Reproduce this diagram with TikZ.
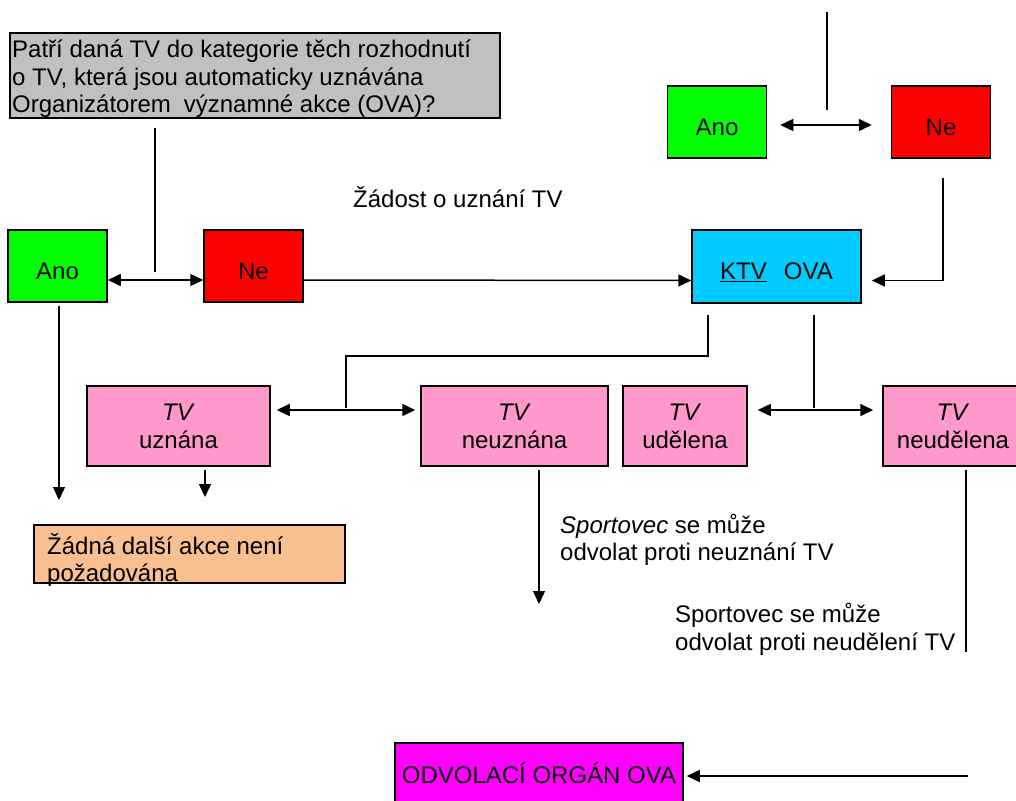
\documentclass[tikz,border=0pt]{standalone}
\usepackage{fontspec}
\setmainfont{Liberation Sans}
\usetikzlibrary{arrows.meta}
\definecolor{cgray}{HTML}{C0C0C0}
\definecolor{cgreen}{HTML}{00FF00}
\definecolor{cred}{HTML}{FF0000}
\definecolor{ccyan}{HTML}{00CCFF}
\definecolor{cpink}{HTML}{FF99CC}
\definecolor{ctan}{HTML}{F8C090}
\definecolor{cmag}{HTML}{FF00FF}
\tikzset{
  every node/.style={font=\fontsize{24}{28}\selectfont},
  boxbase/.style={draw=black, line width=1.5pt, inner sep=0pt, rectangle},
  yesno/.style={boxbase, minimum width=99pt, minimum height=72pt, text height=26pt, text depth=0pt},
  pinkbox/.style={boxbase, fill=cpink, minimum height=80pt, align=center},
  txt/.style={anchor=base west, inner sep=0pt},
  conn/.style={line width=1.5pt, black},
  arr/.style={conn, -{Triangle[length=13pt,width=12pt]}},
  biarr/.style={conn, {Triangle[length=13pt,width=12pt]}-{Triangle[length=13pt,width=12pt]}},
}
\begin{document}
\begin{tikzpicture}[x=1pt,y=-1pt]
\useasboundingbox (0,0) rectangle (1016,800);
\clip (0,0) rectangle (1016,800);
\fill[white] (0,0) rectangle (1016,800);

% question box
\node[boxbase, fill=cgray, minimum width=490pt, minimum height=85pt] (q) at (255,75.5) {};
\node[txt] (q1) at (12,58) {Patří daná TV do kategorie těch rozhodnutí};
\node[txt] (q2) at (12,85) {o TV, která jsou automaticky uznávána};
\node[txt] (q3) at (12,112) {Organizátorem\hspace{13pt}významné akce (OVA)?};

% top right
\node[yesno, fill=cgreen] (ano2) at (717,122) {Ano};
\node[yesno, fill=cred] (ne2) at (941,122) {Ne};
\coordinate (t1) at (827,12);
\coordinate (t2) at (827,110);
\draw[conn] (t1) -- (t2);
\draw[biarr] ([shift={(13pt,-3pt)}]ano2.east) -- ([shift={(-19pt,-3pt)}]ne2.west);

% left
\node[yesno, fill=cgreen] (ano1) at (57.5,266) {Ano};
\node[yesno, fill=cred] (ne1) at (253.5,266) {Ne};
\coordinate (g1) at (155,128);
\coordinate (g2) at (155,272);
\draw[conn] (g1) -- (g2);
\draw[biarr] ([yshift=-14pt]ano1.east) -- ([yshift=-14pt]ne1.west);

\node[txt] (zad) at (353,207) {Žádost o uznání TV};

% KTV
\node[yesno, fill=ccyan, minimum width=169pt, minimum height=73pt] (ktv) at (776.5,266.5) {\underline{KTV}\hspace{17pt}OVA\hspace{14pt}};
\draw[arr] ([yshift=-14pt]ne1.east) -- ([yshift=-14pt]ktv.west);
\coordinate (r1) at (943,178);
\draw[arr] (r1) |- ([shift={(10pt,-14pt)}]ktv.east);

% pink boxes
\node[pinkbox, minimum width=183pt] (pu) at (178.5,426) {\textit{TV}\\uznána};
\node[pinkbox, minimum width=187pt] (pn) at (514.5,426) {\textit{TV}\\neuznána};
\node[pinkbox, minimum width=124pt] (pd) at (685,426) {\textit{TV}\\udělena};
\node[pinkbox, minimum width=140pt] (pnd) at (953,426) {\textit{TV}\\neudělena};

\coordinate (k1) at (708,315);
\coordinate (k2) at (346,408);
\draw[conn] (k1) -- (708,356) -| (k2);
\draw[biarr] ([shift={(6pt,16pt)}]pu.east) -- ([shift={(-5pt,16pt)}]pn.west);

\coordinate (k3) at (814,315);
\coordinate (k4) at (814,408);
\draw[conn] (k3) -- (k4);
\draw[biarr] ([shift={(10pt,16pt)}]pd.east) -- ([shift={(-9pt,16pt)}]pnd.west);

% result box
\node[boxbase, fill=ctan, minimum width=311pt, minimum height=58pt] (none) at (189.5,554) {};
\node[txt] (n1) at (47,554) {Žádná další akce není};
\node[txt] (n2) at (47,581) {požadována};

\coordinate (a1) at (59,306);
\coordinate (a2) at (59,500);
\draw[arr] (a1) -- (a2);
\coordinate (u1) at (205,470);
\coordinate (u2) at (205,497);
\draw[arr] (u1) -- (u2);

\coordinate (nu1) at (539,470);
\coordinate (nu2) at (539,604);
\draw[arr] (nu1) -- (nu2);
\node[txt] (s1) at (560,533) {\textit{Sportovec} se může};
\node[txt] (s2) at (560,560) {odvolat proti neuznání TV};

\coordinate (nd1) at (966,470);
\coordinate (nd2) at (966,652);
\draw[conn] (nd1) -- (nd2);
\node[txt] (s3) at (675,622) {Sportovec se může};
\node[txt] (s4) at (675,650) {odvolat proti neudělení TV};

% appeal
\node[boxbase, fill=cmag, minimum width=288pt, minimum height=60pt, text height=20pt, text depth=0pt] (odv) at (539,773) {ODVOLACÍ ORGÁN OVA};
\coordinate (o1) at (968,776);
\draw[arr] (o1) -- ([shift={(3pt,-3pt)}]odv.east);
\end{tikzpicture}
\end{document}
